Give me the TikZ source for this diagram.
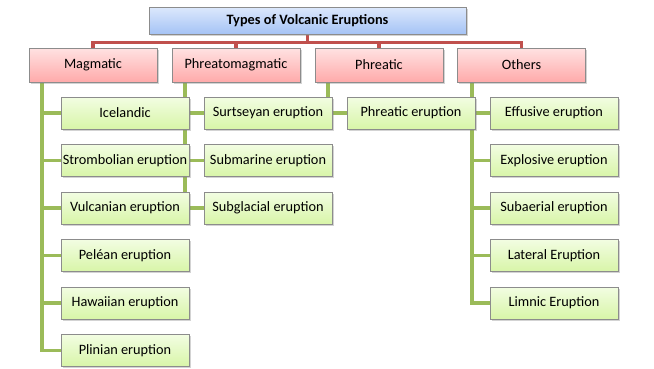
\documentclass[tikz,border=0pt]{standalone}
\usepackage{fontspec}
\setmainfont{Carlito}
\usetikzlibrary{positioning,backgrounds,calc,shadows}
\definecolor{edgegray}{RGB}{140,140,140}
\definecolor{redline}{RGB}{192,80,77}
\definecolor{grnline}{RGB}{155,187,89}
\definecolor{bluetop}{RGB}{220,232,252}
\definecolor{bluebot}{RGB}{165,195,245}
\definecolor{redtop}{RGB}{255,226,226}
\definecolor{redbot}{RGB}{255,170,170}
\definecolor{grntop}{RGB}{242,253,226}
\definecolor{grnbot}{RGB}{216,245,168}
\tikzset{
  anybox/.style={draw=edgegray,line width=0.8pt,inner sep=0pt,align=center,
                 font=\fontsize{14.3}{16}\selectfont,text=black,
                 drop shadow={shadow xshift=1.5pt,shadow yshift=-1.5pt,opacity=0.35}},
  topbox/.style={anybox,minimum width=317pt,minimum height=27pt,
                 top color=bluetop,bottom color=bluebot,
                 font=\fontsize{14.3}{16}\selectfont\bfseries},
  catbox/.style={anybox,minimum width=128pt,minimum height=34pt,
                 top color=redtop,bottom color=redbot},
  leafbox/.style={anybox,minimum width=128pt,minimum height=32pt,
                  top color=grntop,bottom color=grnbot},
  redln/.style={draw=redline,line width=3.5pt},
  grnln/.style={draw=grnline,line width=3.5pt},
}
\begin{document}
\begin{tikzpicture}[x=1pt, y=-1pt]
  \useasboundingbox (0,0) rectangle (654,368);
  % Top of the tree
  \node[topbox] (types) at (307.5,20.5) {Types of Volcanic Eruptions};
  \node[catbox] (mag) at (93,65) {Magmatic};
  \node[catbox] (pmag) at (236,65) {Phreatomagmatic};
  \node[catbox] (phr) at (379,65) {Phreatic};
  \node[catbox] (oth) at (521.5,65) {Others};
  % Leaves, one column under each group
  \foreach \txt [count=\i] in {Icelandic,Strombolian eruption,Vulcanian eruption,
      Peléan eruption,Hawaiian eruption,Plinian eruption}
    \node[leafbox] (mag\i) at (125,{113+47.5*(\i-1)}) {\txt};
  \foreach \txt [count=\i] in {Surtseyan eruption,Submarine eruption,Subglacial eruption}
    \node[leafbox] (pmag\i) at (268,{113+47.5*(\i-1)}) {\txt};
  \node[leafbox] (phr1) at (411,113) {Phreatic eruption};
  \foreach \txt [count=\i] in {Effusive eruption,Explosive eruption,Subaerial eruption,
      Lateral Eruption,Limnic Eruption}
    \node[leafbox] (oth\i) at (554,{113+47.5*(\i-1)}) {\txt};
  % Connectors go behind the boxes
  \begin{scope}[on background layer]
    \foreach \g in {mag,pmag,phr,oth}
      \draw[redln] (types.south) -- ++(0,8) -| (\g.north);
    \foreach \i in {1,...,6}
      \draw[grnln] ($(mag.south west)+(13.5,0)$) |- (mag\i.west);
    \foreach \i in {1,...,3}
      \draw[grnln] ($(pmag.south west)+(13.5,0)$) |- (pmag\i.west);
    \draw[grnln] ($(phr.south west)+(13.5,0)$) |- (phr1.west);
    \foreach \i in {1,...,5}
      \draw[grnln] ($(oth.south west)+(15,0)$) |- (oth\i.west);
  \end{scope}
\end{tikzpicture}
\end{document}
